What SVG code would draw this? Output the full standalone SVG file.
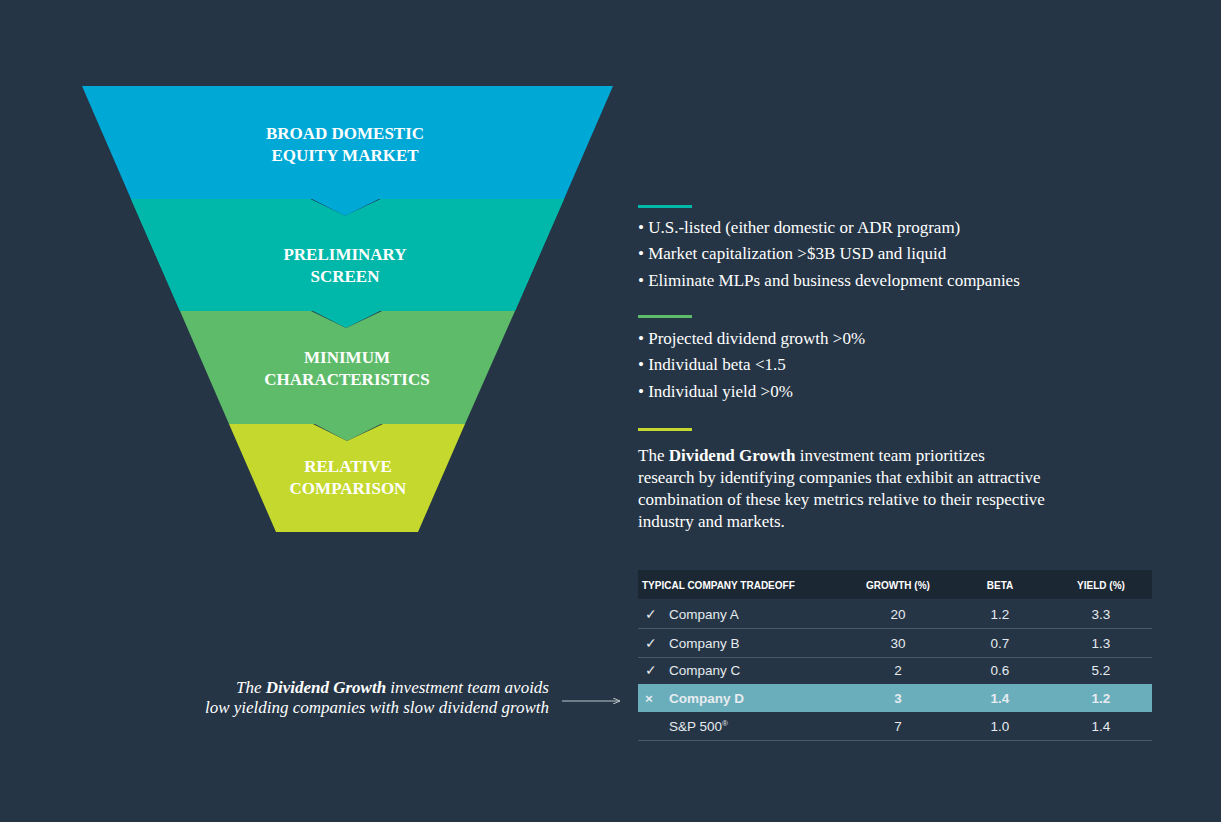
<svg xmlns="http://www.w3.org/2000/svg" width="1221" height="822" viewBox="0 0 1221 822">
<style>
.ft{font-family:"Liberation Serif",serif;font-weight:bold;font-size:17px;fill:#fff;text-anchor:middle}
.bl{font-family:"Liberation Serif",serif;font-size:17px;fill:#fff}
.th{font-family:"Liberation Sans",sans-serif;font-weight:bold;font-size:10px;fill:#fff}
.td{font-family:"Liberation Sans",sans-serif;font-size:13.5px;fill:#e6ebef}
.c{text-anchor:middle}
.sep{stroke:#4a5968;stroke-width:1}
</style>
<defs><marker id="ah" markerWidth="8" markerHeight="6" refX="7" refY="3" orient="auto"><path d="M0,0L7,3L0,6" fill="none" stroke="#bfc6cc" stroke-width="1"/></marker></defs>
<rect width="1221" height="822" fill="#253545"/>
<g id="band1"><polygon points="82,86 613,86 564,199 131,199" fill="#00a8d6"/><polygon points="310,198 345,216 381,198" fill="#00a8d6"/>
<text class="ft" x="345" y="139">BROAD DOMESTIC</text><text class="ft" x="345" y="161">EQUITY MARKET</text></g>
<g id="band2"><polygon points="131,199 381,199 345,216 310,199 131,199 180,311 515,311 564,199" fill="#00b8a9"/><polygon points="131,199 310,199 345,216 381,199 564,199 515,311 180,311" fill="#00b8a9"/><polygon points="311,310 346,328 382,310" fill="#00b8a9"/>
<text class="ft" x="345" y="260">PRELIMINARY</text><text class="ft" x="345" y="282">SCREEN</text></g>
<g id="band3"><polygon points="180,311 311,311 346,328 382,311 515,311 465,424 229,424" fill="#5ebb6a"/><polygon points="313,423 347,441 383,423" fill="#5ebb6a"/>
<text class="ft" x="347" y="363">MINIMUM</text><text class="ft" x="347" y="385">CHARACTERISTICS</text></g>
<g id="band4"><polygon points="229,424 313,424 347,441 383,424 465,424 418,532 276,532" fill="#c4d82e"/>
<text class="ft" x="348" y="472">RELATIVE</text><text class="ft" x="348" y="494">COMPARISON</text></g>
<g id="criteria">
<rect x="638" y="205" width="54" height="3" fill="#00b8a9"/>
<text class="bl" x="638" y="233">• U.S.-listed (either domestic or ADR program)</text>
<text class="bl" x="638" y="259">• Market capitalization &gt;$3B USD and liquid</text>
<text class="bl" x="638" y="286">• Eliminate MLPs and business development companies</text>
<rect x="638" y="315" width="54" height="3" fill="#5ebb6a"/>
<text class="bl" x="638" y="344">• Projected dividend growth &gt;0%</text>
<text class="bl" x="638" y="370">• Individual beta &lt;1.5</text>
<text class="bl" x="638" y="397">• Individual yield &gt;0%</text>
<rect x="638" y="428" width="54" height="3" fill="#c4d82e"/>
<text class="bl" x="638" y="461">The <tspan font-weight="bold">Dividend Growth</tspan> investment team prioritizes</text>
<text class="bl" x="638" y="483">research by identifying companies that exhibit an attractive</text>
<text class="bl" x="638" y="505">combination of these key metrics relative to their respective</text>
<text class="bl" x="638" y="527">industry and markets.</text>
</g>
<g id="table">
<rect x="638" y="570" width="514" height="29" fill="#1b2733"/>
<text class="th" x="642" y="589">TYPICAL COMPANY TRADEOFF</text>
<text class="th c" x="898" y="589">GROWTH (%)</text><text class="th c" x="1000" y="589">BETA</text><text class="th c" x="1101" y="589">YIELD (%)</text>
<text class="td" x="645" y="619">✓</text><text class="td" x="669" y="619">Company A</text><text class="td c" x="898" y="619">20</text><text class="td c" x="1000" y="619">1.2</text><text class="td c" x="1101" y="619">3.3</text>
<line class="sep" x1="638" y1="628.5" x2="1152" y2="628.5"/>
<text class="td" x="645" y="648">✓</text><text class="td" x="669" y="648">Company B</text><text class="td c" x="898" y="648">30</text><text class="td c" x="1000" y="648">0.7</text><text class="td c" x="1101" y="648">1.3</text>
<line class="sep" x1="638" y1="657.5" x2="1152" y2="657.5"/>
<text class="td" x="645" y="675">✓</text><text class="td" x="669" y="675">Company C</text><text class="td c" x="898" y="675">2</text><text class="td c" x="1000" y="675">0.6</text><text class="td c" x="1101" y="675">5.2</text>
<rect x="638" y="684" width="514" height="28" fill="#6aaebb"/>
<g font-weight="bold"><text class="td" x="645" y="703" fill="#fff">×</text><text class="td" x="669" y="703" font-weight="bold">Company D</text><text class="td c" x="898" y="703" font-weight="bold">3</text><text class="td c" x="1000" y="703" font-weight="bold">1.4</text><text class="td c" x="1101" y="703" font-weight="bold">1.2</text></g>
<text class="td" x="669" y="731">S&amp;P 500<tspan font-size="8" dy="-5">®</tspan></text><text class="td c" x="898" y="731">7</text><text class="td c" x="1000" y="731">1.0</text><text class="td c" x="1101" y="731">1.4</text>
<line class="sep" x1="638" y1="740.5" x2="1152" y2="740.5"/>
</g>
<g id="note">
<text class="bl" x="549" y="693" text-anchor="end" font-style="italic">The <tspan font-weight="bold">Dividend Growth</tspan> investment team avoids</text>
<text class="bl" x="549" y="713" text-anchor="end" font-style="italic">low yielding companies with slow dividend growth</text>
</g>
<g id="connectors"><line x1="562" y1="701" x2="620" y2="701" stroke="#bfc6cc" stroke-width="1" marker-end="url(#ah)"/></g>
</svg>
